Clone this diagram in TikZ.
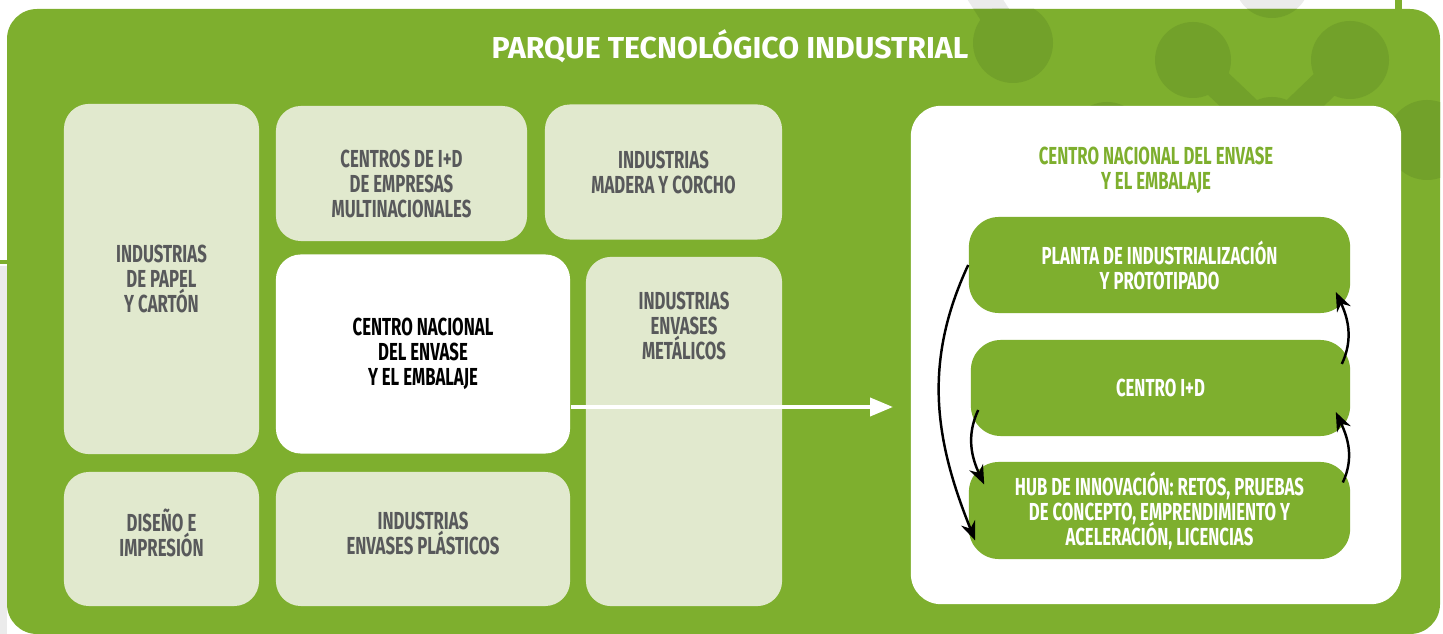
\documentclass[tikz,border=0pt]{standalone}
\usepackage{fontspec}
\setmainfont{Fira Sans}
\newfontfamily\boxfont[FakeStretch=0.68]{Fira Sans}
\usepackage{xcolor}
\usetikzlibrary{arrows.meta,positioning}

\definecolor{parkgreen}{HTML}{7EAF2E}
\definecolor{deepgreen}{HTML}{72A12A}
\definecolor{palegreen}{HTML}{E1E9CE}
\definecolor{labelgray}{HTML}{58595B}
\definecolor{decogray}{HTML}{EBEBEB}

\newcommand{\tilefont}{\boxfont\bfseries\fontsize{7}{7.1}\selectfont\lineskiplimit=-10pt}

\begin{document}
\begin{tikzpicture}[
    x=0.01cm, y=-0.01cm,
    tile/.style={rectangle, rounded corners=0.25cm, fill=palegreen, align=center, inner sep=0pt, text=labelgray, font=\tilefont},
    tiletext/.style={align=center, text=labelgray, font=\tilefont},
    stage/.style={rectangle, rounded corners=0.3cm, fill=parkgreen, align=center, inner sep=0pt, text=white, minimum width=3.81cm, minimum height=0.96cm, font=\tilefont},
    link/.style={-{Stealth[length=0.19cm,width=0.15cm]}, line width=0.7pt, black},
    pipe/.style={-{Triangle[length=0.23cm,width=0.18cm]}, line width=1.1pt, white}
]
\useasboundingbox (0,0) rectangle (1443,634);

% background decoration
\fill[decogray] (0,266) rectangle (7,634);
\fill[parkgreen] (0,260) rectangle (7,264);
\fill[parkgreen] (1395,0) rectangle (1402,10);
\fill[decogray] (1272,-20) circle (38);
\draw[decogray, line width=0.3cm] (1013,43) -- (960,-40);
\fill[parkgreen, rounded corners=0.3cm] (7,9) rectangle (1440,634);
\begin{scope}
  \clip[rounded corners=0.3cm] (7,9) rectangle (1440,634);
  \fill[deepgreen] (1272,-20) circle (38);
  \draw[deepgreen, line width=0.3cm] (1013,43) -- (960,-40);
  \fill[deepgreen] (1013,43) circle (40);
  \draw[deepgreen, line width=0.3cm] (1193,60) -- (1272,135) -- (1350,60);
  \fill[deepgreen] (1193,60) circle (38) (1350,60) circle (39) (1272,135) circle (38) (1107,140) circle (38) (1427,140) circle (40);
\end{scope}

\node[text=white, font=\bfseries\fontsize{8.6}{10}\selectfont] (title) at (730,46) {PARQUE TECNOLÓGICO INDUSTRIAL};

% park tiles
\node[tile, minimum width=1.95cm, minimum height=3.5cm] (papel) at (161.5,279) {INDUSTRIAS\\DE PAPEL\\Y CARTÓN};
\node[tile, minimum width=2.51cm, minimum height=1.35cm,
      label={[tiletext, yshift=-0.1cm]center:CENTROS DE I+D\\DE EMPRESAS\\MULTINACIONALES}] (multi) at (401.5,173.5) {};
\node[tile, minimum width=2.37cm, minimum height=1.35cm] (madera) at (663.5,172) {INDUSTRIAS\\MADERA Y CORCHO};
\node[tile, fill=white, text=black, minimum width=2.94cm, minimum height=1.99cm] (cnee) at (423,354) {CENTRO NACIONAL\\DEL ENVASE\\Y EL EMBALAJE};
\node[tile, minimum width=1.96cm, minimum height=3.49cm,
      label={[tiletext, anchor=north, yshift=-0.23cm]north:INDUSTRIAS\\ENVASES\\METÁLICOS}] (metal) at (684,431.5) {};
\node[tile, minimum width=1.95cm, minimum height=1.34cm,
      label={[tiletext, yshift=0.06cm]center:DISEÑO E\\IMPRESIÓN}] (diseno) at (161.5,539) {};
\node[tile, minimum width=2.94cm, minimum height=1.34cm,
      label={[tiletext, yshift=0.06cm]center:INDUSTRIAS\\ENVASES PLÁSTICOS}] (plastico) at (423,539) {};

% centre detail
\node[rectangle, rounded corners=0.3cm, fill=white, minimum width=4.9cm, minimum height=4.98cm] (panel) at (1156,355) {};
\node[align=center, text=parkgreen, font=\tilefont] (panelhead) at (1156,170) {CENTRO NACIONAL DEL ENVASE\\Y EL EMBALAJE};
\node[stage] (planta) at (1159.5,265) {PLANTA DE INDUSTRIALIZACIÓN\\Y PROTOTIPADO};
\node[stage, minimum width=3.79cm] (centro) at (1160.5,388) {CENTRO I+D};
\node[stage, minimum height=0.97cm] (hub) at (1159.5,510.5) {HUB DE INNOVACIÓN: RETOS, PRUEBAS\\DE CONCEPTO, EMPRENDIMIENTO Y\\ACELERACIÓN, LICENCIAS};

\coordinate (tip) at (893,407);
\draw[pipe] (cnee.east |- tip) -- (tip);

\draw[link] (planta.west) to[out=245, in=112] ([xshift=0.07cm, yshift=-0.3cm]hub.west);
\draw[link] ([xshift=0.08cm, yshift=-0.22cm]centro.west) to[out=245, in=115] ([xshift=0.16cm, yshift=0.26cm]hub.west);
\draw[link] ([xshift=-0.08cm, yshift=0.28cm]hub.east) to[out=65, in=-65] ([xshift=-0.15cm, yshift=-0.24cm]centro.east);
\draw[link] ([xshift=-0.09cm, yshift=0.24cm]centro.east) to[out=65, in=-65] ([xshift=-0.15cm, yshift=-0.27cm]planta.east);
\end{tikzpicture}
\end{document}
